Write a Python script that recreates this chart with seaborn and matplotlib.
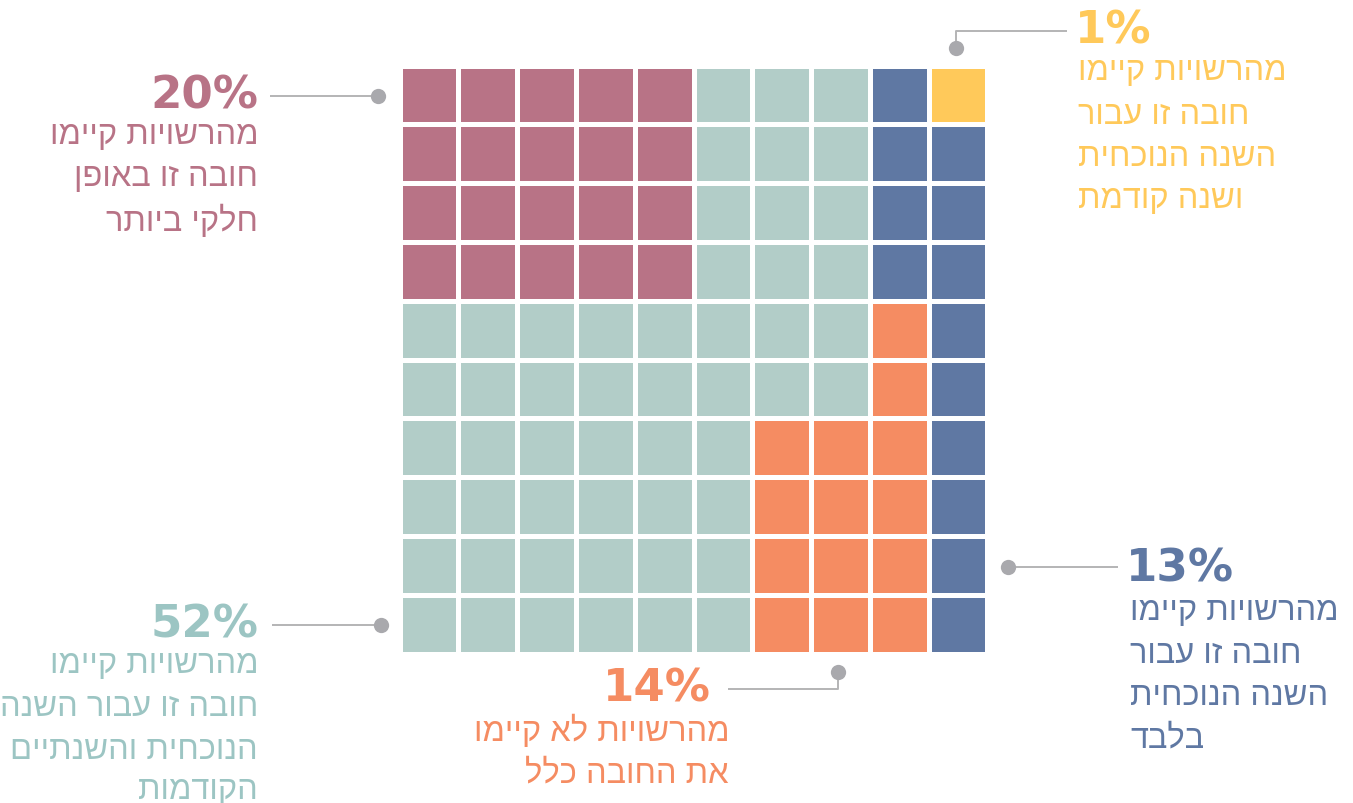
import numpy as np
import pandas as pd
import matplotlib
matplotlib.use("Agg")
import matplotlib.pyplot as plt
from matplotlib.colors import ListedColormap
import seaborn as sns

# ---------------- data ----------------
category_keys = ["P", "T", "B", "O", "Y"]
percent_values = [20, 52, 13, 14, 1]
percent_labels = ["20%", "52%", "13%", "14%", "1%"]
category_colors = ["#B87386", "#B2CDC8", "#5F78A3", "#F58C62", "#FFC95A"]
text_colors = ["#B87386", "#9CC5C3", "#5F78A3", "#F58C62", "#FFC95A"]

# waffle layout (one letter per cell, top row first)
waffle_rows = [
    "PPPPPTTTBY",
    "PPPPPTTTBB",
    "PPPPPTTTBB",
    "PPPPPTTTBB",
    "TTTTTTTTOB",
    "TTTTTTTTOB",
    "TTTTTTOOOB",
    "TTTTTTOOOB",
    "TTTTTTOOOB",
    "TTTTTTOOOB",
]

descriptions = [
    ["מהרשויות קיימו", "חובה זו באופן", "חלקי ביותר"],
    ["מהרשויות קיימו", "חובה זו עבור השנה", "הנוכחית והשנתיים", "הקודמות"],
    ["מהרשויות קיימו", "חובה זו עבור", "השנה הנוכחית", "בלבד"],
    ["מהרשויות לא קיימו", "את החובה כלל"],
    ["מהרשויות קיימו", "חובה זו עבור", "השנה הנוכחית", "ושנה קודמת"],
]


def rtl(s):
    # matplotlib lays text out left-to-right; reverse Hebrew for visual order
    return s[::-1]


# ---------------- figure ----------------
W, H = 1353, 804
sns.set_theme(style="white")
fig = plt.figure(figsize=(W / 100, H / 100), dpi=100)
fig.patch.set_facecolor("white")

code = {k: i for i, k in enumerate(category_keys)}
grid = pd.DataFrame([[code[c] for c in row] for row in waffle_rows])

gl, gt, gw, gh = 399.6, 66.6, 587.8, 588.0
hax = fig.add_axes([gl / W, 1 - (gt + gh) / H, gw / W, gh / H])
sns.heatmap(grid, ax=hax, cmap=ListedColormap(category_colors), vmin=-0.5,
            vmax=len(category_keys) - 0.5, cbar=False, linewidths=3.45,
            linecolor="white", xticklabels=False, yticklabels=False)
hax.set_xlabel("")
hax.set_ylabel("")

ov = fig.add_axes([0, 0, 1, 1])
ov.set_xlim(0, W)
ov.set_ylim(H, 0)
ov.axis("off")

line_col = "#B4B4B6"
dot_col = "#A9A9AD"
heb_font = "Liberation Sans"
pct_font = "DejaVu Sans"
pct_size = 32.5
heb_size = 23.5


def connector(xs, ys, dot):
    ov.plot(xs, ys, color=line_col, lw=1.4, solid_capstyle="butt")
    ov.plot([dot[0]], [dot[1]], "o", ms=11, color=dot_col, mec="none")


def block(idx, xp, yp, xl, ys, ha):
    ov.text(xp, yp, percent_labels[idx], ha=ha, va="center", fontsize=pct_size,
            fontweight="bold", color=text_colors[idx], family=pct_font)
    for s, yy in zip(descriptions[idx], ys):
        ov.text(xl, yy, rtl(s), ha=ha, va="center", fontsize=heb_size,
                color=text_colors[idx], family=heb_font)


# 20%
connector([270, 378], [97, 97], (378, 97))
block(0, 258, 96, 258, [135, 178, 221], "right")
# 52%
connector([272, 381], [626, 626], (381, 626))
block(1, 258, 625, 258, [665, 708, 751, 791], "right")
# 13%
connector([1008, 1118], [568, 568], (1008, 568))
block(2, 1126, 569, 1130, [612, 655, 697, 739], "left")
# 14%
connector([728, 838, 838], [690, 690, 673], (838, 673))
block(3, 711, 689, 729, [731, 774], "right")
# 1%
connector([956, 956, 1067], [49, 32, 32], (956, 49))
block(4, 1075, 31, 1078, [72, 115, 157, 200], "left")

fig.savefig("out.png", dpi=100, facecolor="white")
